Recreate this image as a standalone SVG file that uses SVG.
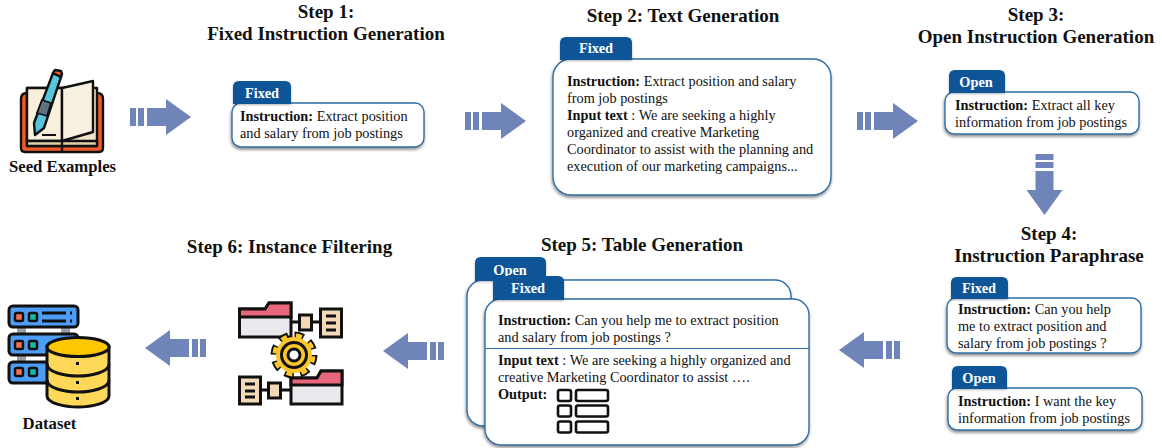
<svg xmlns="http://www.w3.org/2000/svg" width="1162" height="448" viewBox="0 0 1162 448">
<style>
text{font-family:"Liberation Serif","Times New Roman",serif;fill:#111}
.t{font-size:19px;font-weight:bold;text-anchor:middle}
.l{font-size:16.7px;font-weight:bold;text-anchor:middle}
.b{font-size:14.3px}
.h{font-weight:bold}
.tabt{font-size:14.3px;font-weight:bold;fill:#fff;text-anchor:middle}
.card{fill:#fff;stroke:#2e6da4;stroke-width:1.4;filter:url(#sh)}
.tab{fill:#0e5496;filter:url(#sh2)}
.k{stroke:#111;stroke-width:2.4;stroke-linejoin:round;stroke-linecap:round}
.a{fill:#6f84b8}
</style>
<defs>
<filter id="sh" x="-5%" y="-5%" width="110%" height="115%"><feDropShadow dx="-0.5" dy="2" stdDeviation="1.5" flood-color="#000" flood-opacity="0.45"/></filter>
<filter id="sh2" x="-5%" y="-5%" width="110%" height="115%"><feDropShadow dx="0" dy="1" stdDeviation="0.8" flood-color="#000" flood-opacity="0.3"/></filter>
<g id="arr"><path class="a" d="M0 -9V9H6V-9ZM8 -9V9H14V-9ZM17 -9V9H36V18L61 0L36 -18V-9Z"/></g>
</defs>

<g id="connectors">
<use href="#arr" x="130" y="117"/>
<use href="#arr" x="465" y="121"/>
<use href="#arr" x="857" y="121"/>
<use href="#arr" transform="translate(1044.500,154) rotate(90)"/>
<use href="#arr" transform="translate(900,350) rotate(180)"/>
<use href="#arr" transform="translate(444,351) rotate(180)"/>
<use href="#arr" transform="translate(206,348) rotate(180)"/>
</g>

<g id="seed">
<path d="M27 93H97Q103 93 103 99V148Q103 152 99 152H25Q21 152 21 148V99Q21 93 27 93Z" fill="#f05a28" class="k"/>
<path d="M27 88H97V146H27Z" fill="#efe3c8" class="k"/>
<path d="M27 88H62V141H27Z" fill="#f8efdc" class="k"/>
<path d="M27 141H97V146H27Z" fill="#e2cfa8" class="k"/>
<path d="M62 88L93 81V132L62 141Z" fill="#f8f0e0" class="k"/>
<path d="M62 141V151" stroke="#111" stroke-width="2.400"/>
<path d="M53 73L61 77L44 128L35 135L34 123Z" fill="#57c5dc" class="k"/>
<path d="M42 100L51 103L47 116L37 113Z" fill="#5d7480" stroke="#111" stroke-width="1.800"/>
<path d="M53 73L55 70L61 71L62 74L61 77Z" fill="#f05a28" class="k"/>
<path d="M42 135H56" stroke="#111" stroke-width="2"/>
<text class="l" x="62.500" y="172">Seed Examples</text>
</g>

<g id="step1">
<text class="t" x="326" y="18">Step 1:</text>
<text class="t" x="326" y="40">Fixed Instruction Generation</text>
<rect class="card" x="232" y="103" width="192" height="44" rx="9"/>
<path class="tab" d="M233 104V87Q233 81 239 81H285Q291 81 291 87V104Z"/>
<text class="tabt" x="262" y="98">Fixed</text>
<text class="b" x="240" y="121"><tspan class="h">Instruction:</tspan> Extract position</text>
<text class="b" x="240" y="138">and salary from job postings</text>
</g>

<g id="step2">
<text class="t" x="683" y="22">Step 2: Text Generation</text>
<rect class="card" x="553" y="59" width="278" height="136" rx="18"/>
<path class="tab" d="M560 60V43Q560 37 566 37H626Q632 37 632 43V60Z"/>
<text class="tabt" x="596" y="53">Fixed</text>
<text class="b" x="567" y="86"><tspan class="h">Instruction:</tspan> Extract position and salary</text>
<text class="b" x="567" y="103">from job postings</text>
<text class="b" x="567" y="120"><tspan class="h">Input text</tspan> : We are seeking a highly</text>
<text class="b" x="567" y="137">organized and creative Marketing</text>
<text class="b" x="567" y="154">Coordinator to assist with the planning and</text>
<text class="b" x="567" y="171">execution of our marketing campaigns...</text>
</g>

<g id="step3">
<text class="t" x="1036" y="21">Step 3:</text>
<text class="t" x="1036" y="43">Open Instruction Generation</text>
<rect class="card" x="945" y="92" width="194" height="42" rx="9"/>
<path class="tab" d="M949 93V76Q949 70 955 70H999Q1005 70 1005 76V93Z"/>
<text class="tabt" x="976" y="87">Open</text>
<text class="b" x="955" y="110"><tspan class="h">Instruction:</tspan> Extract all key</text>
<text class="b" x="955" y="127">information from job postings</text>
</g>

<g id="step4">
<text class="t" x="1049" y="240">Step 4:</text>
<text class="t" x="1049" y="262">Instruction Paraphrase</text>
<rect class="card" x="947" y="298" width="194" height="55" rx="9"/>
<path class="tab" d="M951 299V283Q951 277 957 277H1002Q1008 277 1008 283V299Z"/>
<text class="tabt" x="979" y="293">Fixed</text>
<text class="b" x="958" y="314"><tspan class="h">Instruction:</tspan> Can you help</text>
<text class="b" x="958" y="331">me to extract position and</text>
<text class="b" x="958" y="348">salary from job postings ?</text>
<rect class="card" x="948" y="388" width="194" height="42" rx="9"/>
<path class="tab" d="M952 389V372Q952 366 958 366H1001Q1007 366 1007 372V389Z"/>
<text class="tabt" x="979" y="383">Open</text>
<text class="b" x="958" y="406"><tspan class="h">Instruction:</tspan> I want the key</text>
<text class="b" x="958" y="423">information from job postings</text>
</g>

<g id="step5">
<text class="t" x="642" y="251">Step 5: Table Generation</text>
<rect class="card" x="467" y="280" width="324" height="146" rx="16"/>
<path class="tab" d="M475 281V263Q475 257 481 257H540Q546 257 546 263V281Z"/>
<text class="tabt" x="510" y="275">Open</text>
<rect class="card" x="485" y="299" width="324" height="146" rx="16"/>
<path class="tab" d="M493 300V282Q493 276 499 276H558Q564 276 564 282V300Z"/>
<text class="tabt" x="528" y="293">Fixed</text>
<text class="b" x="498" y="325"><tspan class="h">Instruction:</tspan> Can you help me to extract position</text>
<text class="b" x="498" y="342">and salary from job postings ?</text>
<line x1="485" y1="348.500" x2="809" y2="348.500" stroke="#2e6da4" stroke-width="1.200"/>
<text class="b" x="498" y="365"><tspan class="h">Input text</tspan> : We are seeking a highly organized and</text>
<text class="b" x="498" y="382">creative Marketing Coordinator to assist ….</text>
<text class="b h" x="498" y="399">Output:</text>
<g fill="#fff" stroke="#111" stroke-width="2.600">
<rect x="558" y="390" width="13" height="11" rx="2"/><rect x="576" y="390" width="32" height="11" rx="2"/>
<rect x="558" y="405.500" width="13" height="11" rx="2"/><rect x="576" y="405.500" width="32" height="11" rx="2"/>
<rect x="558" y="421.500" width="13" height="11" rx="2"/><rect x="576" y="421.500" width="32" height="11" rx="2"/>
</g>
</g>

<g id="step6">
<text class="t" x="289.500" y="253">Step 6: Instance Filtering</text>
<g stroke="#111" stroke-width="3">
<path d="M291 322H322M260 390H290" fill="none"/>
<path d="M239.500 309H265L269 303H291V337H239.500Z" fill="#e8eaee"/>
<path d="M239.500 309H265L269 303H291V317H239.500Z" fill="#e8677c"/>
<rect x="299.500" y="315" width="12" height="15" fill="#f3d9b8"/>
<rect x="320.500" y="309" width="21" height="28" fill="#f3d9b8"/>
<path d="M326 316H336M326 323H336M326 330H336" fill="none"/>
<path d="M291 378H317L321 371H342V404H291Z" fill="#e8eaee"/>
<path d="M291 378H317L321 371H342V385H291Z" fill="#e8677c"/>
<rect x="268.500" y="383" width="12" height="15" fill="#f3d9b8"/>
<rect x="239.500" y="377" width="21" height="27" fill="#f3d9b8"/>
<path d="M245 384H255M245 391H255M245 397H255" fill="none"/>
<circle cx="294" cy="355" r="19.500" fill="none" stroke-width="8" stroke-dasharray="9 6.300"/>
<circle cx="294" cy="355" r="19.500" fill="none" stroke="#fcc62d" stroke-width="4" stroke-dasharray="6 9.300" stroke-dashoffset="-1.500"/>
<circle cx="294" cy="355" r="18" fill="#fcc62d" stroke="none"/>
<circle cx="294" cy="355" r="12.500" fill="#fcc62d"/>
<circle cx="294" cy="355" r="6" fill="#fff"/>
</g>
</g>

<g id="dataset" stroke="#111" stroke-width="3">
<rect x="17" y="328" width="9" height="5" fill="#9aa0a6" stroke="none"/><rect x="61" y="328" width="9" height="5" fill="#9aa0a6" stroke="none"/>
<rect x="17" y="356" width="9" height="5" fill="#9aa0a6" stroke="none"/>
<rect x="9" y="306" width="69" height="21" rx="4" fill="#4d9cf5"/>
<rect x="9" y="334" width="69" height="21" rx="4" fill="#4d9cf5"/>
<rect x="9" y="362" width="69" height="21" rx="4" fill="#4d9cf5"/>
<rect x="15" y="313" width="8" height="8" rx="1.500" fill="#f2734e" stroke-width="2.500"/>
<rect x="29" y="313" width="8" height="8" rx="1.500" fill="#19b7a8" stroke-width="2.500"/>
<rect x="15" y="341" width="8" height="8" rx="1.500" fill="#f2734e" stroke-width="2.500"/>
<rect x="29" y="341" width="8" height="8" rx="1.500" fill="#19b7a8" stroke-width="2.500"/>
<rect x="15" y="368" width="8" height="8" rx="1.500" fill="#f2734e" stroke-width="2.500"/>
<rect x="29" y="368" width="8" height="8" rx="1.500" fill="#19b7a8" stroke-width="2.500"/>
<path d="M42 313H66M42 321H66M70 313H72M70 321H72" fill="none"/>
<path d="M47 347V396C47 403 64 407 78 407C92 407 109 403 109 396V347Z" fill="#fed859"/>
<ellipse cx="78" cy="347" rx="31" ry="9.500" fill="#fdc800"/>
<path d="M47 364C47 372 64 376 78 376C92 376 109 372 109 364M47 380C47 388 64 392 78 392C92 392 109 388 109 380" fill="none"/>
<rect x="76" y="362" width="3" height="3" fill="#111" stroke="none"/><rect x="76" y="381" width="3" height="3" fill="#111" stroke="none"/><rect x="76" y="397" width="3" height="3" fill="#111" stroke="none"/>
<text class="l" x="49.500" y="429" stroke="none">Dataset</text>
</g>
</svg>
